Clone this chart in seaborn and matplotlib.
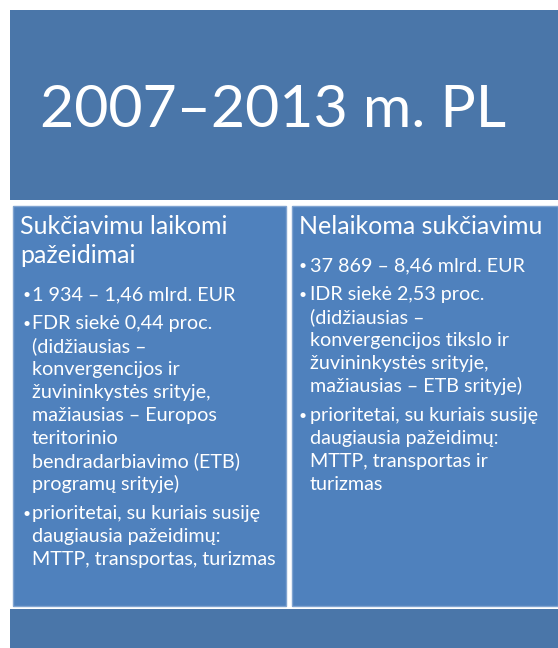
import matplotlib
matplotlib.use("Agg")
import matplotlib.pyplot as plt
from matplotlib.patches import Rectangle
import seaborn as sns

# Content of the slide
title = "2007–2013 m. PL"
left_heading = ["Sukčiavimu laikomi", "pažeidimai"]
left_bullets = [
    ["1 934 – 1,46 mlrd. EUR"],
    ["FDR siekė 0,44 proc.", "(didžiausias –", "konvergencijos ir",
     "žuvininkystės srityje,", "mažiausias – Europos", "teritorinio",
     "bendradarbiavimo (ETB)", "programų srityje)"],
    ["prioritetai, su kuriais susiję", "daugiausia pažeidimų:",
     "MTTP, transportas, turizmas"],
]
right_heading = ["Nelaikoma sukčiavimu"]
right_bullets = [
    ["37 869 – 8,46 mlrd. EUR"],
    ["IDR siekė 2,53 proc.", "(didžiausias –", "konvergencijos tikslo ir",
     "žuvininkystės srityje,", "mažiausias – ETB srityje)"],
    ["prioritetai, su kuriais susiję", "daugiausia pažeidimų:",
     "MTTP, transportas ir", "turizmas"],
]

sns.set_theme(style="white")
plt.rcParams['font.family'] = ['Lato', 'DejaVu Sans']

dark = "#4a76a9"
panel = "#4f81bd"
edge = "#7fa3d0"

fig = plt.figure(figsize=(5.58, 6.48), dpi=100)
ax = fig.add_axes([0, 0, 1, 1])
ax.set_xlim(0, 558)
ax.set_ylim(648, 0)
ax.axis("off")

# boxes
ax.add_patch(Rectangle((10, 10), 548, 190, color=dark, lw=0))
ax.add_patch(Rectangle((13, 206), 273, 400, facecolor=panel, edgecolor=edge, lw=1))
ax.add_patch(Rectangle((292, 206), 266, 400, facecolor=panel, edgecolor=edge, lw=1))
ax.add_patch(Rectangle((10, 609), 548, 45, color=dark, lw=0))

ax.text(273, 127, title, color="white", fontsize=42.5, ha="center", va="baseline")


def draw_panel(x_head, x_bullet, x_text, heading, bullets):
    y = 234
    for line in heading:
        ax.text(x_head, y, line, color="white", fontsize=18, va="baseline")
        y += 29
    y += 37 - 29
    for para in bullets:
        ax.text(x_bullet, y - 1, "•", color="white", fontsize=10, va="baseline")
        for line in para:
            ax.text(x_text, y, line, color="white", fontsize=14.2, va="baseline")
            y += 23
        y += 6


draw_panel(20, 22, 32, left_heading, left_bullets)
draw_panel(299, 299, 310, right_heading, right_bullets)

fig.savefig("out.png", dpi=100, facecolor="white")
